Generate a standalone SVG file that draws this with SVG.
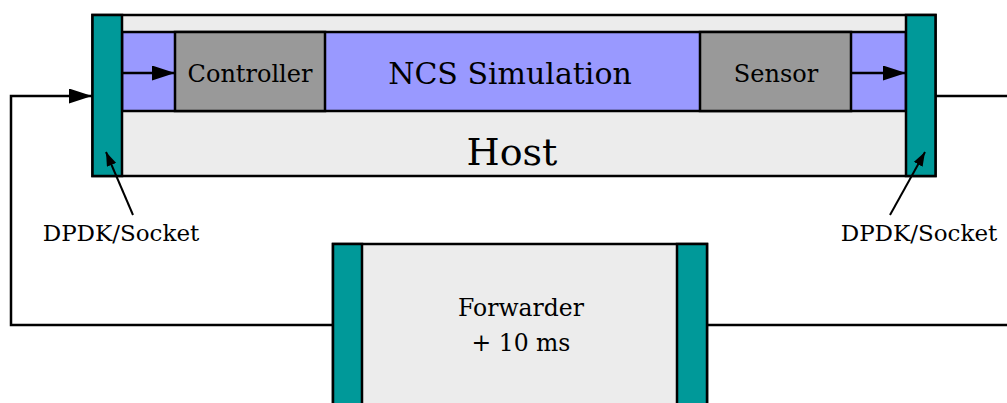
<svg xmlns="http://www.w3.org/2000/svg" width="1007" height="403" viewBox="0 0 1007 403">
<style>
.box{stroke:#000;stroke-width:2.5}
.host{fill:#ececec}
.band{fill:#9999ff}
.grey{fill:#999999}
.teal{fill:#009999}
.ln{fill:none;stroke:#000;stroke-width:2.5}
.thin{fill:none;stroke:#000;stroke-width:2}
text{font-family:"DejaVu Serif",serif;fill:#000;text-anchor:middle}
</style>
<defs>
<marker id="ah" markerWidth="14" markerHeight="10" refX="14" refY="5" orient="auto" markerUnits="userSpaceOnUse">
<path d="M0,0 L14,5 L0,10 z" fill="#000"/>
</marker>
<marker id="ahb" markerWidth="23" markerHeight="15" refX="23" refY="7.5" orient="auto" markerUnits="userSpaceOnUse">
<path d="M0,0 L23,7.5 L0,15 z" fill="#000"/>
</marker>
</defs>
<g id="host">
<rect class="box host" x="92.5" y="15" width="843" height="161"/>
<rect class="box band" x="122" y="32" width="784" height="79"/>
<text x="510" y="84" font-size="30">NCS Simulation</text>
<text x="512" y="165" font-size="38">Host</text>
</g>
<g id="controller">
<rect class="box grey" x="175" y="32" width="150" height="79"/>
<text x="250" y="82" font-size="24">Controller</text>
</g>
<g id="sensor">
<rect class="box grey" x="700" y="32" width="151" height="79"/>
<text x="776" y="82" font-size="24">Sensor</text>
</g>
<g id="host-left-port">
<rect class="box teal" x="92.5" y="15" width="29.5" height="161"/>
</g>
<g id="host-right-port">
<rect class="box teal" x="906" y="15" width="29.5" height="161"/>
</g>
<g id="forwarder">
<rect class="box host" x="333" y="244" width="374" height="170"/>
<rect class="box teal" x="333" y="244" width="29" height="170"/>
<rect class="box teal" x="677" y="244" width="30" height="170"/>
<text x="521" y="316" font-size="23.5">Forwarder</text>
<text x="521" y="351" font-size="23.5">+ 10 ms</text>
</g>
<g id="label-left"><text x="121" y="241" font-size="23">DPDK/Socket</text></g>
<g id="label-right"><text x="919" y="241" font-size="23">DPDK/Socket</text></g>
<g id="connectors">
<line class="ln" x1="122" y1="73" x2="175" y2="73" marker-end="url(#ahb)"/>
<line class="ln" x1="851" y1="73" x2="906" y2="73" marker-end="url(#ahb)"/>
<polyline class="ln" points="333,325 11,325 11,96 92,96" marker-end="url(#ahb)"/>
<line class="ln" x1="936" y1="96" x2="1010" y2="96"/>
<line class="ln" x1="707" y1="325" x2="1010" y2="325"/>
<line class="thin" x1="133" y1="215" x2="106" y2="152" marker-end="url(#ah)"/>
<line class="thin" x1="890" y1="215" x2="925" y2="152" marker-end="url(#ah)"/>
</g>
</svg>
